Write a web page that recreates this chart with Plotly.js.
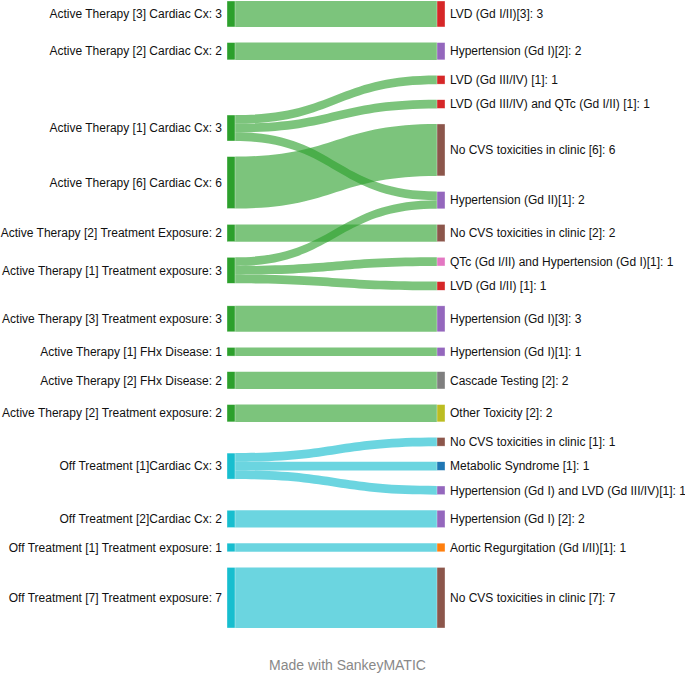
<!DOCTYPE html>
<html>
<head>
<meta charset="utf-8">
<script src="https://cdn.plot.ly/plotly-3.0.1.min.js"></script>
<style>
html,body{margin:0;padding:0;background:#fff;}
#chart{width:685px;height:675px;}
</style>
</head>
<body>
<div id="chart"></div>
<script>
// ---- data ----
var sourceNames = [
  "Active Therapy [3] Cardiac Cx",
  "Active Therapy [2] Cardiac Cx",
  "Active Therapy [1] Cardiac Cx",
  "Active Therapy [6] Cardiac Cx",
  "Active Therapy [2] Treatment Exposure",
  "Active Therapy [1] Treatment exposure",
  "Active Therapy [3] Treatment exposure",
  "Active Therapy [1] FHx Disease",
  "Active Therapy [2] FHx Disease",
  "Active Therapy [2] Treatment exposure",
  "Off Treatment [1]Cardiac Cx",
  "Off Treatment [2]Cardiac Cx",
  "Off Treatment [1] Treatment exposure",
  "Off Treatment [7] Treatment exposure"
];
var sourceGroup = ["Active","Active","Active","Active","Active","Active","Active","Active","Active","Active","Off","Off","Off","Off"];

var targetNames = [
  "LVD (Gd I/II)[3]",
  "Hypertension (Gd I)[2]",
  "LVD (Gd III/IV) [1]",
  "LVD (Gd III/IV) and QTc (Gd I/II) [1]",
  "No CVS toxicities in clinic [6]",
  "Hypertension (Gd II)[1]",
  "No CVS toxicities in clinic [2]",
  "QTc (Gd I/II) and Hypertension (Gd I)[1]",
  "LVD (Gd I/II) [1]",
  "Hypertension (Gd I)[3]",
  "Hypertension (Gd I)[1]",
  "Cascade Testing [2]",
  "Other Toxicity [2]",
  "No CVS toxicities in clinic [1]",
  "Metabolic Syndrome [1]",
  "Hypertension (Gd I) and LVD (Gd III/IV)[1]",
  "Hypertension (Gd I) [2]",
  "Aortic Regurgitation (Gd I/II)[1]",
  "No CVS toxicities in clinic [7]"
];
var targetColors = [
  "#d62728","#9467bd","#d62728","#d62728","#8c564b","#9467bd","#8c564b","#e377c2","#d62728",
  "#9467bd","#9467bd","#7f7f7f","#bcbd22","#8c564b","#1f77b4","#9467bd","#9467bd","#ff7f0e","#8c564b"
];

var flowSource = [0,1,2,2,2,3,4,5,5,5,6,7,8,9,10,10,10,11,12,13];
var flowTarget = [0,1,2,3,5,4,6,5,7,8,9,10,11,12,13,14,15,16,17,18];
var flowValue  = [3,2,1,1,1,6,2,1,1,1,3,1,2,2,1,1,1,2,1,7];

// ---- styles ----
var groupNodeColor = {Active:"#2ca02c", Off:"#17becf"};
var groupLinkColor = {Active:"rgba(44,160,44,0.62)", Off:"rgba(23,190,207,0.64)"};

// ---- build ----
var nS = sourceNames.length;
var srcTot = sourceNames.map(function(){return 0;});
var tgtTot = targetNames.map(function(){return 0;});
flowValue.forEach(function(v,i){ srcTot[flowSource[i]] += v; tgtTot[flowTarget[i]] += v; });

var labels = sourceNames.map(function(n,i){return n + ": " + srcTot[i];})
  .concat(targetNames.map(function(n,i){return n + ": " + tgtTot[i];}));
var nodeColors = sourceGroup.map(function(g){return groupNodeColor[g];}).concat(targetColors);

var trace = {
  type: "sankey",
  orientation: "h",
  arrangement: "snap",
  domain: {x:[227/685, 445/685], y:[(675-628)/675, (675-1)/675]},
  hoverinfo: "none",
  textfont: {family: "Liberation Sans, Arial, Helvetica, sans-serif", size: 12, color: "#111", shadow: "none"},
  node: {
    label: labels,
    color: nodeColors,
    thickness: 8,
    pad: 15.6,
    line: {color: "rgba(255,255,255,0.7)", width: 0.5},
    hoverinfo: "none"
  },
  link: {
    source: flowSource,
    target: flowTarget.map(function(t){return t + nS;}),
    value: flowValue,
    color: flowSource.map(function(s){return groupLinkColor[sourceGroup[s]];}),
    hoverinfo: "none"
  }
};

var layout = {
  width: 685, height: 675,
  margin: {l:0, r:0, t:0, b:0},
  paper_bgcolor: "#fff",
  font: {family: "Liberation Sans, Arial, Helvetica, sans-serif", size: 12, color: "#111"},
  annotations: [{
    text: "Made with SankeyMATIC",
    xref: "paper", yref: "paper",
    x: 348/685, y: (675-665)/675,
    xanchor: "center", yanchor: "middle",
    showarrow: false,
    font: {family: "Liberation Sans, Arial, Helvetica, sans-serif", size: 14, color: "#888"}
  }]
};

function moveLabels(gd){
  var nodes = gd.querySelectorAll('.sankey-node');
  nodes.forEach(function(g){
    var rect = g.querySelector('.node-rect');
    var txt = g.querySelector('.node-label');
    if(!rect || !txt) return;
    var rb = rect.getBoundingClientRect();
    var w = parseFloat(rect.getAttribute('width')) || rb.width;
    var tr = txt.getAttribute('transform') || '';
    var m = tr.match(/translate\(\s*([-\d.e+]+)[\s,]+([-\d.e+]+)\s*\)/);
    var y = m ? parseFloat(m[2]) : 0;
    var isLeft = (rb.left + rb.width/2) < 342;
    if(isLeft){
      txt.setAttribute('text-anchor','end');
      txt.setAttribute('transform','translate(' + (-5) + ',' + y + ')');
    } else {
      txt.setAttribute('text-anchor','start');
      txt.setAttribute('transform','translate(' + (w + 5) + ',' + y + ')');
    }
    txt.style.textShadow = 'none';
  });
}

Plotly.newPlot('chart', [trace], layout, {displayModeBar:false, staticPlot:true}).then(function(gd){
  moveLabels(gd);
  setTimeout(function(){ moveLabels(gd); }, 300);
  setTimeout(function(){ moveLabels(gd); }, 900);
});
</script>
</body>
</html>
